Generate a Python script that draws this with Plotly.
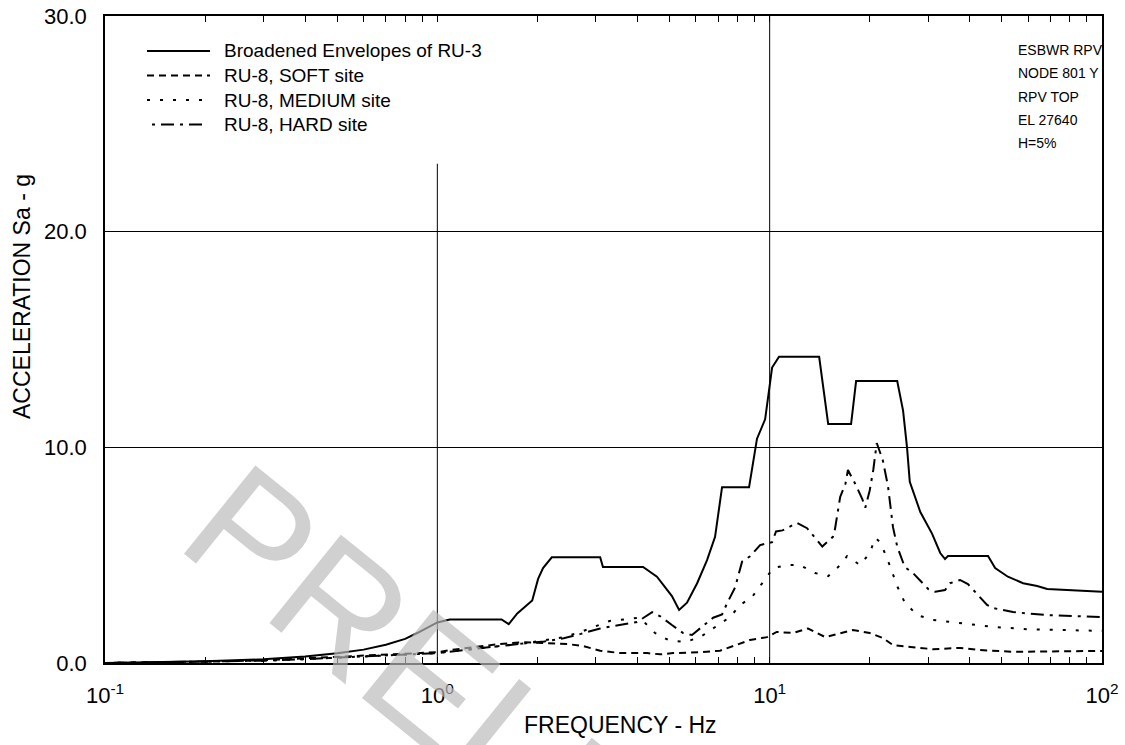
import plotly.graph_objects as go

# ---------------- data ----------------
env_f = [0.1, 0.15, 0.2, 0.3, 0.4, 0.5, 0.6, 0.7, 0.8, 0.87, 0.93, 1.0, 1.09, 1.56, 1.64, 1.74,
         1.93, 2.01, 2.08, 2.21, 3.09, 3.15, 4.16, 4.58, 5.08, 5.34, 5.64, 6.05, 6.48, 6.85, 7.19,
         8.67, 9.16, 9.69, 10.17, 10.67, 14.09, 14.85, 15.0, 17.58, 18.2, 24.2, 25.2, 25.9, 26.4,
         28.4, 30.8, 32.6, 33.7, 34.4, 45.4, 47.7, 52.1, 57.9, 63.8, 68.4, 81.9, 100.0]
env_a = [0.0, 0.04, 0.08, 0.17, 0.3, 0.45, 0.62, 0.85, 1.12, 1.39, 1.62, 1.88, 2.02, 2.02, 1.8, 2.3,
         2.9, 3.9, 4.4, 4.9, 4.9, 4.45, 4.45, 4.0, 3.1, 2.46, 2.8, 3.7, 4.77, 5.85, 8.15,
         8.15, 10.4, 11.3, 13.7, 14.2, 14.2, 11.5, 11.08, 11.08, 13.07, 13.07, 11.7, 10.0, 8.4,
         7.0, 6.0, 5.1, 4.82, 4.96, 4.96, 4.4, 4.0, 3.7, 3.57, 3.43, 3.38, 3.3]

soft_f = [0.1, 0.2, 0.3, 0.4, 0.5, 0.6, 0.67, 0.8, 0.91, 1.0, 1.09, 1.28, 1.54, 1.81, 2.14, 2.46,
          2.74, 3.09, 3.55, 4.28, 4.68, 5.12, 6.18, 7.09, 7.98, 8.73, 9.82, 10.5, 11.75, 13.05,
          14.7, 16.3, 17.8, 20.0, 21.9, 23.5, 27.0, 31.0, 37.4, 43.0, 54.0, 100.0]
soft_a = [0.0, 0.06, 0.13, 0.22, 0.28, 0.33, 0.37, 0.43, 0.46, 0.5, 0.6, 0.74, 0.88, 0.97, 0.93, 0.88,
          0.79, 0.57, 0.46, 0.46, 0.4, 0.46, 0.5, 0.57, 0.85, 1.07, 1.2, 1.44, 1.39, 1.6,
          1.2, 1.39, 1.53, 1.39, 1.16, 0.83, 0.75, 0.64, 0.7, 0.6, 0.52, 0.56]

med_f = [0.1, 0.2, 0.3, 0.4, 0.5, 0.6, 0.7, 0.8, 0.9, 1.0, 1.2, 1.5, 1.8, 2.1, 2.4, 2.7, 3.09, 3.3,
         4.07, 4.52, 4.95, 5.56, 6.18, 6.85, 7.6, 8.15, 8.85, 9.55, 10.24, 11.27, 12.33, 13.7,
         15.0, 16.07, 17.1, 18.7, 20.0, 20.8, 21.5, 22.5, 23.4, 24.3, 25.5, 27.8, 31.0, 38.2,
         47.0, 60.8, 78.5, 100.0]
med_a = [0.0, 0.05, 0.11, 0.18, 0.24, 0.29, 0.33, 0.37, 0.41, 0.46, 0.6, 0.75, 0.9, 1.05, 1.2, 1.44,
         1.8, 1.95, 2.1, 1.39, 1.07, 0.97, 1.2, 1.67, 2.13, 2.69, 3.06, 3.75, 4.4, 4.54, 4.54, 4.17,
         4.03, 4.45, 4.96, 4.54, 5.1, 5.8, 5.6, 4.9, 4.2, 3.5, 2.8, 2.22, 2.0, 1.85,
         1.67, 1.56, 1.53, 1.49]

hard_f = [0.1, 0.2, 0.3, 0.4, 0.5, 0.6, 0.7, 0.8, 0.9, 1.0, 1.2, 1.5, 1.8, 2.1, 2.4, 2.7, 3.09, 3.5,
          3.99, 4.43, 4.7, 5.08, 5.49, 5.84, 6.26, 6.76, 7.19, 7.45, 7.87, 8.26, 8.73, 9.36, 10.17,
          10.45, 10.93, 12.09, 12.96, 13.7, 14.4, 15.5, 15.7, 16.3, 16.9, 17.2, 18.1, 19.0, 19.4,
          20.0, 20.5, 21.0, 21.9, 22.7, 23.5, 24.2, 24.7, 25.5, 27.0, 30.0, 31.5, 33.7, 34.9, 37.4,
          39.5, 43.0, 45.1, 47.0, 54.0, 68.4, 85.9, 100.0]
hard_a = [0.0, 0.05, 0.11, 0.18, 0.24, 0.29, 0.33, 0.37, 0.41, 0.46, 0.6, 0.78, 0.9, 1.0, 1.15, 1.35, 1.6, 1.75,
          1.9, 2.36, 2.15, 1.76, 1.39, 1.3, 1.67, 2.1, 2.25, 2.78, 3.5, 4.7, 4.95, 5.47, 5.6,
          6.1, 6.15, 6.5, 6.25, 5.8, 5.4, 5.85, 6.15, 7.7, 8.3, 8.95, 8.3, 7.6, 7.2,
          8.0, 8.95, 10.2, 9.4, 8.2, 6.3, 5.4, 5.0, 4.45, 4.17, 3.43, 3.3, 3.38, 3.7, 3.85,
          3.66, 3.06, 2.69, 2.55, 2.36, 2.22, 2.17, 2.13]

series_names = ["Broadened Envelopes of RU-3", "RU-8, SOFT site", "RU-8, MEDIUM site", "RU-8, HARD site"]
series_dash = ["solid", "7px,5px", "3px,10px", "3px,6px,13px,6px"]
x_tick_vals = [0.1, 1, 10, 100]
x_tick_text = ["10<sup>-1</sup>", "10<sup>0</sup>", "10<sup>1</sup>", "10<sup>2</sup>"]
y_tick_vals = [0, 10, 20, 30]
y_tick_text = ["0.0", "10.0", "20.0", "30.0"]
minor_vals = [m * d for d in (0.1, 1, 10) for m in range(2, 10)] + [1, 10]
note_lines = ["ESBWR RPV", "NODE 801 Y", "RPV TOP", "EL 27640", "H=5%"]
x_title = "FREQUENCY - Hz"
y_title = "ACCELERATION Sa - g"
watermark = "PRELIMINARY"

FONT = "Liberation Sans, Arial, sans-serif"

fig = go.Figure()
for name, fx, ay, dash in zip(series_names, [env_f, soft_f, med_f, hard_f],
                              [env_a, soft_a, med_a, hard_a], series_dash):
    fig.add_trace(go.Scatter(x=fx, y=ay, mode="lines", name=name,
                             line=dict(color="black", width=2, dash=dash),
                             showlegend=False))

# vertical grid lines (the 10^0 one is hidden behind the legend box)
fig.add_shape(type="line", xref="x", yref="y", x0=1, x1=1, y0=0, y1=23.15,
              line=dict(color="black", width=1), layer="below")
fig.add_shape(type="line", xref="x", yref="y", x0=10, x1=10, y0=0, y1=30,
              line=dict(color="black", width=1), layer="below")

# pixel -> paper helpers; plot area spans x 105..1102, y 16..663
plot_top, plot_h, plot_l, plot_w = 16, 647, 105, 997
def px2paper_x(px):
    return (px - plot_l) / plot_w
def px2paper_y(py):
    return 1 - (py - plot_top) / plot_h

# hand-drawn legend
leg_y = [51.0, 75.5, 100.0, 124.5]
for i, (name, dash) in enumerate(zip(series_names, series_dash)):
    yy = px2paper_y(leg_y[i])
    x0, x1 = (147, 210) if i < 3 else (152, 203)
    fig.add_shape(type="line", xref="paper", yref="paper",
                  x0=px2paper_x(x0), x1=px2paper_x(x1), y0=yy, y1=yy,
                  line=dict(color="black", width=2, dash=dash))
    fig.add_annotation(xref="paper", yref="paper", x=px2paper_x(222), y=yy,
                       text=name, showarrow=False, xanchor="left", yanchor="middle",
                       font=dict(family=FONT, size=19, color="black"))

# note block
note_y = [50, 73.3, 96.6, 120, 143.3]
for t, yv in zip(note_lines, note_y):
    fig.add_annotation(xref="paper", yref="paper", x=px2paper_x(1016), y=px2paper_y(yv),
                       text=t, showarrow=False, xanchor="left", yanchor="middle",
                       font=dict(family=FONT, size=14, color="black"))

# axis titles
fig.add_annotation(xref="paper", yref="paper", x=px2paper_x(620), y=px2paper_y(725),
                   text=x_title, showarrow=False, xanchor="center", yanchor="middle",
                   font=dict(family=FONT, size=23, color="black"))
fig.add_annotation(xref="paper", yref="paper", x=px2paper_x(22), y=px2paper_y(297),
                   text=y_title, showarrow=False, textangle=-90,
                   xanchor="center", yanchor="middle",
                   font=dict(family=FONT, size=23, color="black"))

# watermark
fig.add_annotation(xref="paper", yref="paper", x=px2paper_x(643), y=px2paper_y(852),
                   text=watermark, showarrow=False, textangle=39,
                   xanchor="center", yanchor="middle",
                   font=dict(family=FONT, size=165, color="rgba(185,185,185,0.68)"))

fig.update_xaxes(type="log", range=[-1, 2], showgrid=False, zeroline=False, automargin=False,
                 tickmode="array", tickvals=x_tick_vals, ticktext=x_tick_text,
                 ticks="outside", ticklen=12, tickcolor="rgba(0,0,0,0)",
                 ticklabeloverflow="allow",
                 showline=True, linecolor="black", linewidth=1.5, mirror="allticks",
                 minor=dict(tickmode="array", tickvals=minor_vals, ticks="inside",
                            ticklen=6, tickcolor="black", tickwidth=1, showgrid=False),
                 tickfont=dict(family=FONT, size=22, color="black"))
fig.update_yaxes(range=[0, 30], tickmode="array", tickvals=y_tick_vals, ticktext=y_tick_text,
                 showgrid=True, gridcolor="black", gridwidth=1, zeroline=False, automargin=False,
                 ticks="outside", ticklen=12, tickcolor="rgba(0,0,0,0)",
                 ticklabeloverflow="allow",
                 showline=True, linecolor="black", linewidth=1.5, mirror=True,
                 tickfont=dict(family=FONT, size=22, color="black"))

fig.update_layout(width=1125, height=745, margin=dict(l=105, r=23, t=16, b=82),
                  paper_bgcolor="white", plot_bgcolor="white", showlegend=False)

# remove the page's default body margin so the figure sits at the window origin
fig.write_html("out.html", config={"displayModeBar": False},
               post_script="document.body.style.margin='0';")
